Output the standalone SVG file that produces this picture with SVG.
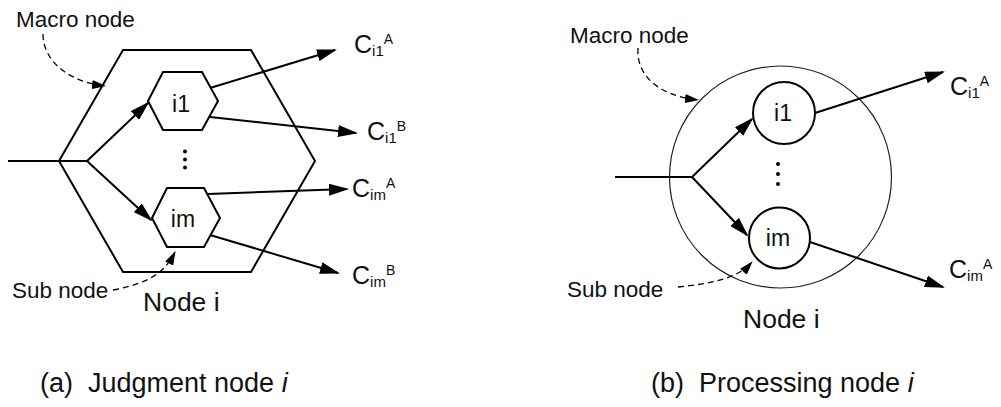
<svg xmlns="http://www.w3.org/2000/svg" width="1001" height="407" viewBox="0 0 1001 407">
<style>
  .ln{fill:none;stroke:#000;stroke-width:2}
  .thin{fill:none;stroke:#222;stroke-width:1.2}
  .dash{fill:none;stroke:#000;stroke-width:1.3;stroke-dasharray:6 4}
  text{font-family:"Liberation Sans",Arial,sans-serif;fill:#111}
  .lbl{font-size:22.5px}
  .in{font-size:23px}
  .big{font-size:26.5px}
  .cap{font-size:27px}
  .c{font-size:25px}
  .sub{font-size:15px}
  .sup{font-size:14px}
</style>
<defs>
  <marker id="ah" viewBox="0 0 20 12" markerWidth="20" markerHeight="12" refX="18" refY="6" orient="auto" markerUnits="userSpaceOnUse">
    <path d="M0,0 L20,6 L0,12 Z" fill="#000"/>
  </marker>
  <marker id="ahs" viewBox="0 0 14 9" markerWidth="14" markerHeight="9" refX="13" refY="4.5" orient="auto" markerUnits="userSpaceOnUse">
    <path d="M0,0 L14,4.5 L0,9 Z" fill="#000"/>
  </marker>
</defs>

<!-- (a) Judgment node -->
<g id="macro-a">
  <polygon class="ln" points="123,50 251,50 315,161 251,272 123,272 59,161"/>
  <text class="big" x="143" y="311">Node i</text>
</g>
<g id="sub-a-i1">
  <polygon class="ln" points="163,72 202,72 218,101 202,130 163,130 148,101"/>
  <text class="in" x="181" y="112" text-anchor="middle">i1</text>
</g>
<g id="sub-a-im">
  <polygon class="ln" points="167,188 204,188 220,218 204,247 167,247 152,218"/>
  <text class="in" x="183" y="227" text-anchor="middle">im</text>
</g>
<g id="dots-a">
  <circle cx="185" cy="151.5" r="2"/>
  <circle cx="185" cy="159.5" r="2"/>
  <circle cx="185" cy="167.5" r="2"/>
</g>
<g id="label-macro-a"><text class="lbl" x="16" y="27">Macro node</text></g>
<g id="label-sub-a"><text class="lbl" x="12" y="298">Sub node</text></g>
<g id="out-a-i1A"><text class="c" x="354" y="53">C<tspan class="sub" dy="3">i1</tspan><tspan class="sup" dy="-12">A</tspan></text></g>
<g id="out-a-i1B"><text class="c" x="367" y="140">C<tspan class="sub" dy="3">i1</tspan><tspan class="sup" dy="-12">B</tspan></text></g>
<g id="out-a-imA"><text class="c" x="352" y="197">C<tspan class="sub" dy="3">im</tspan><tspan class="sup" dy="-12">A</tspan></text></g>
<g id="out-a-imB"><text class="c" x="352" y="284">C<tspan class="sub" dy="3">im</tspan><tspan class="sup" dy="-12">B</tspan></text></g>
<g id="caption-a"><text class="cap" x="40" y="392">(a)&#160; Judgment node <tspan font-style="italic">i</tspan></text></g>

<!-- (b) Processing node -->
<g id="macro-b">
  <circle class="thin" cx="780.5" cy="177" r="111"/>
  <text class="big" x="743" y="328">Node i</text>
</g>
<g id="sub-b-i1">
  <circle class="ln" cx="784" cy="113" r="31"/>
  <text class="in" x="783" y="121" text-anchor="middle">i1</text>
</g>
<g id="sub-b-im">
  <circle class="ln" cx="779.5" cy="238" r="30.5"/>
  <text class="in" x="778" y="246" text-anchor="middle">im</text>
</g>
<g id="dots-b">
  <circle cx="778" cy="164" r="2"/>
  <circle cx="778" cy="174" r="2"/>
  <circle cx="778" cy="184" r="2"/>
</g>
<g id="label-macro-b"><text class="lbl" x="570" y="43">Macro node</text></g>
<g id="label-sub-b"><text class="lbl" x="567" y="297">Sub node</text></g>
<g id="out-b-i1A"><text class="c" x="950" y="95">C<tspan class="sub" dy="3">i1</tspan><tspan class="sup" dy="-12">A</tspan></text></g>
<g id="out-b-imA"><text class="c" x="949" y="278">C<tspan class="sub" dy="3">im</tspan><tspan class="sup" dy="-12">A</tspan></text></g>
<g id="caption-b"><text class="cap" x="651" y="392">(b)&#160; Processing node <tspan font-style="italic">i</tspan></text></g>

<!-- connectors -->
<g id="connectors">
  <line class="ln" x1="8" y1="161" x2="87" y2="161"/>
  <line class="ln" x1="87" y1="161" x2="148" y2="103" marker-end="url(#ah)"/>
  <line class="ln" x1="87" y1="161" x2="151" y2="220" marker-end="url(#ah)"/>
  <line class="ln" x1="210" y1="88" x2="335" y2="50" marker-end="url(#ah)"/>
  <line class="ln" x1="210" y1="117" x2="356" y2="133" marker-end="url(#ah)"/>
  <line class="ln" x1="208" y1="194" x2="347" y2="189" marker-end="url(#ah)"/>
  <line class="ln" x1="210" y1="235" x2="338" y2="273" marker-end="url(#ah)"/>
  <path class="dash" d="M43,34 C43,62 70,82 105,86" marker-end="url(#ahs)"/>
  <path class="dash" d="M113,290 C150,283 165,272 175,252" marker-end="url(#ahs)"/>

  <line class="ln" x1="615" y1="177" x2="692" y2="177"/>
  <line class="ln" x1="692" y1="177" x2="752" y2="119" marker-end="url(#ah)"/>
  <line class="ln" x1="692" y1="177" x2="747" y2="235" marker-end="url(#ah)"/>
  <line class="ln" x1="815" y1="113" x2="943" y2="72" marker-end="url(#ah)"/>
  <line class="ln" x1="810" y1="242" x2="943" y2="287" marker-end="url(#ah)"/>
  <path class="dash" d="M638,48 C636,78 662,96 698,100" marker-end="url(#ahs)"/>
  <path class="dash" d="M678,287 C715,283 738,278 752,262" marker-end="url(#ahs)"/>
</g>
</svg>
